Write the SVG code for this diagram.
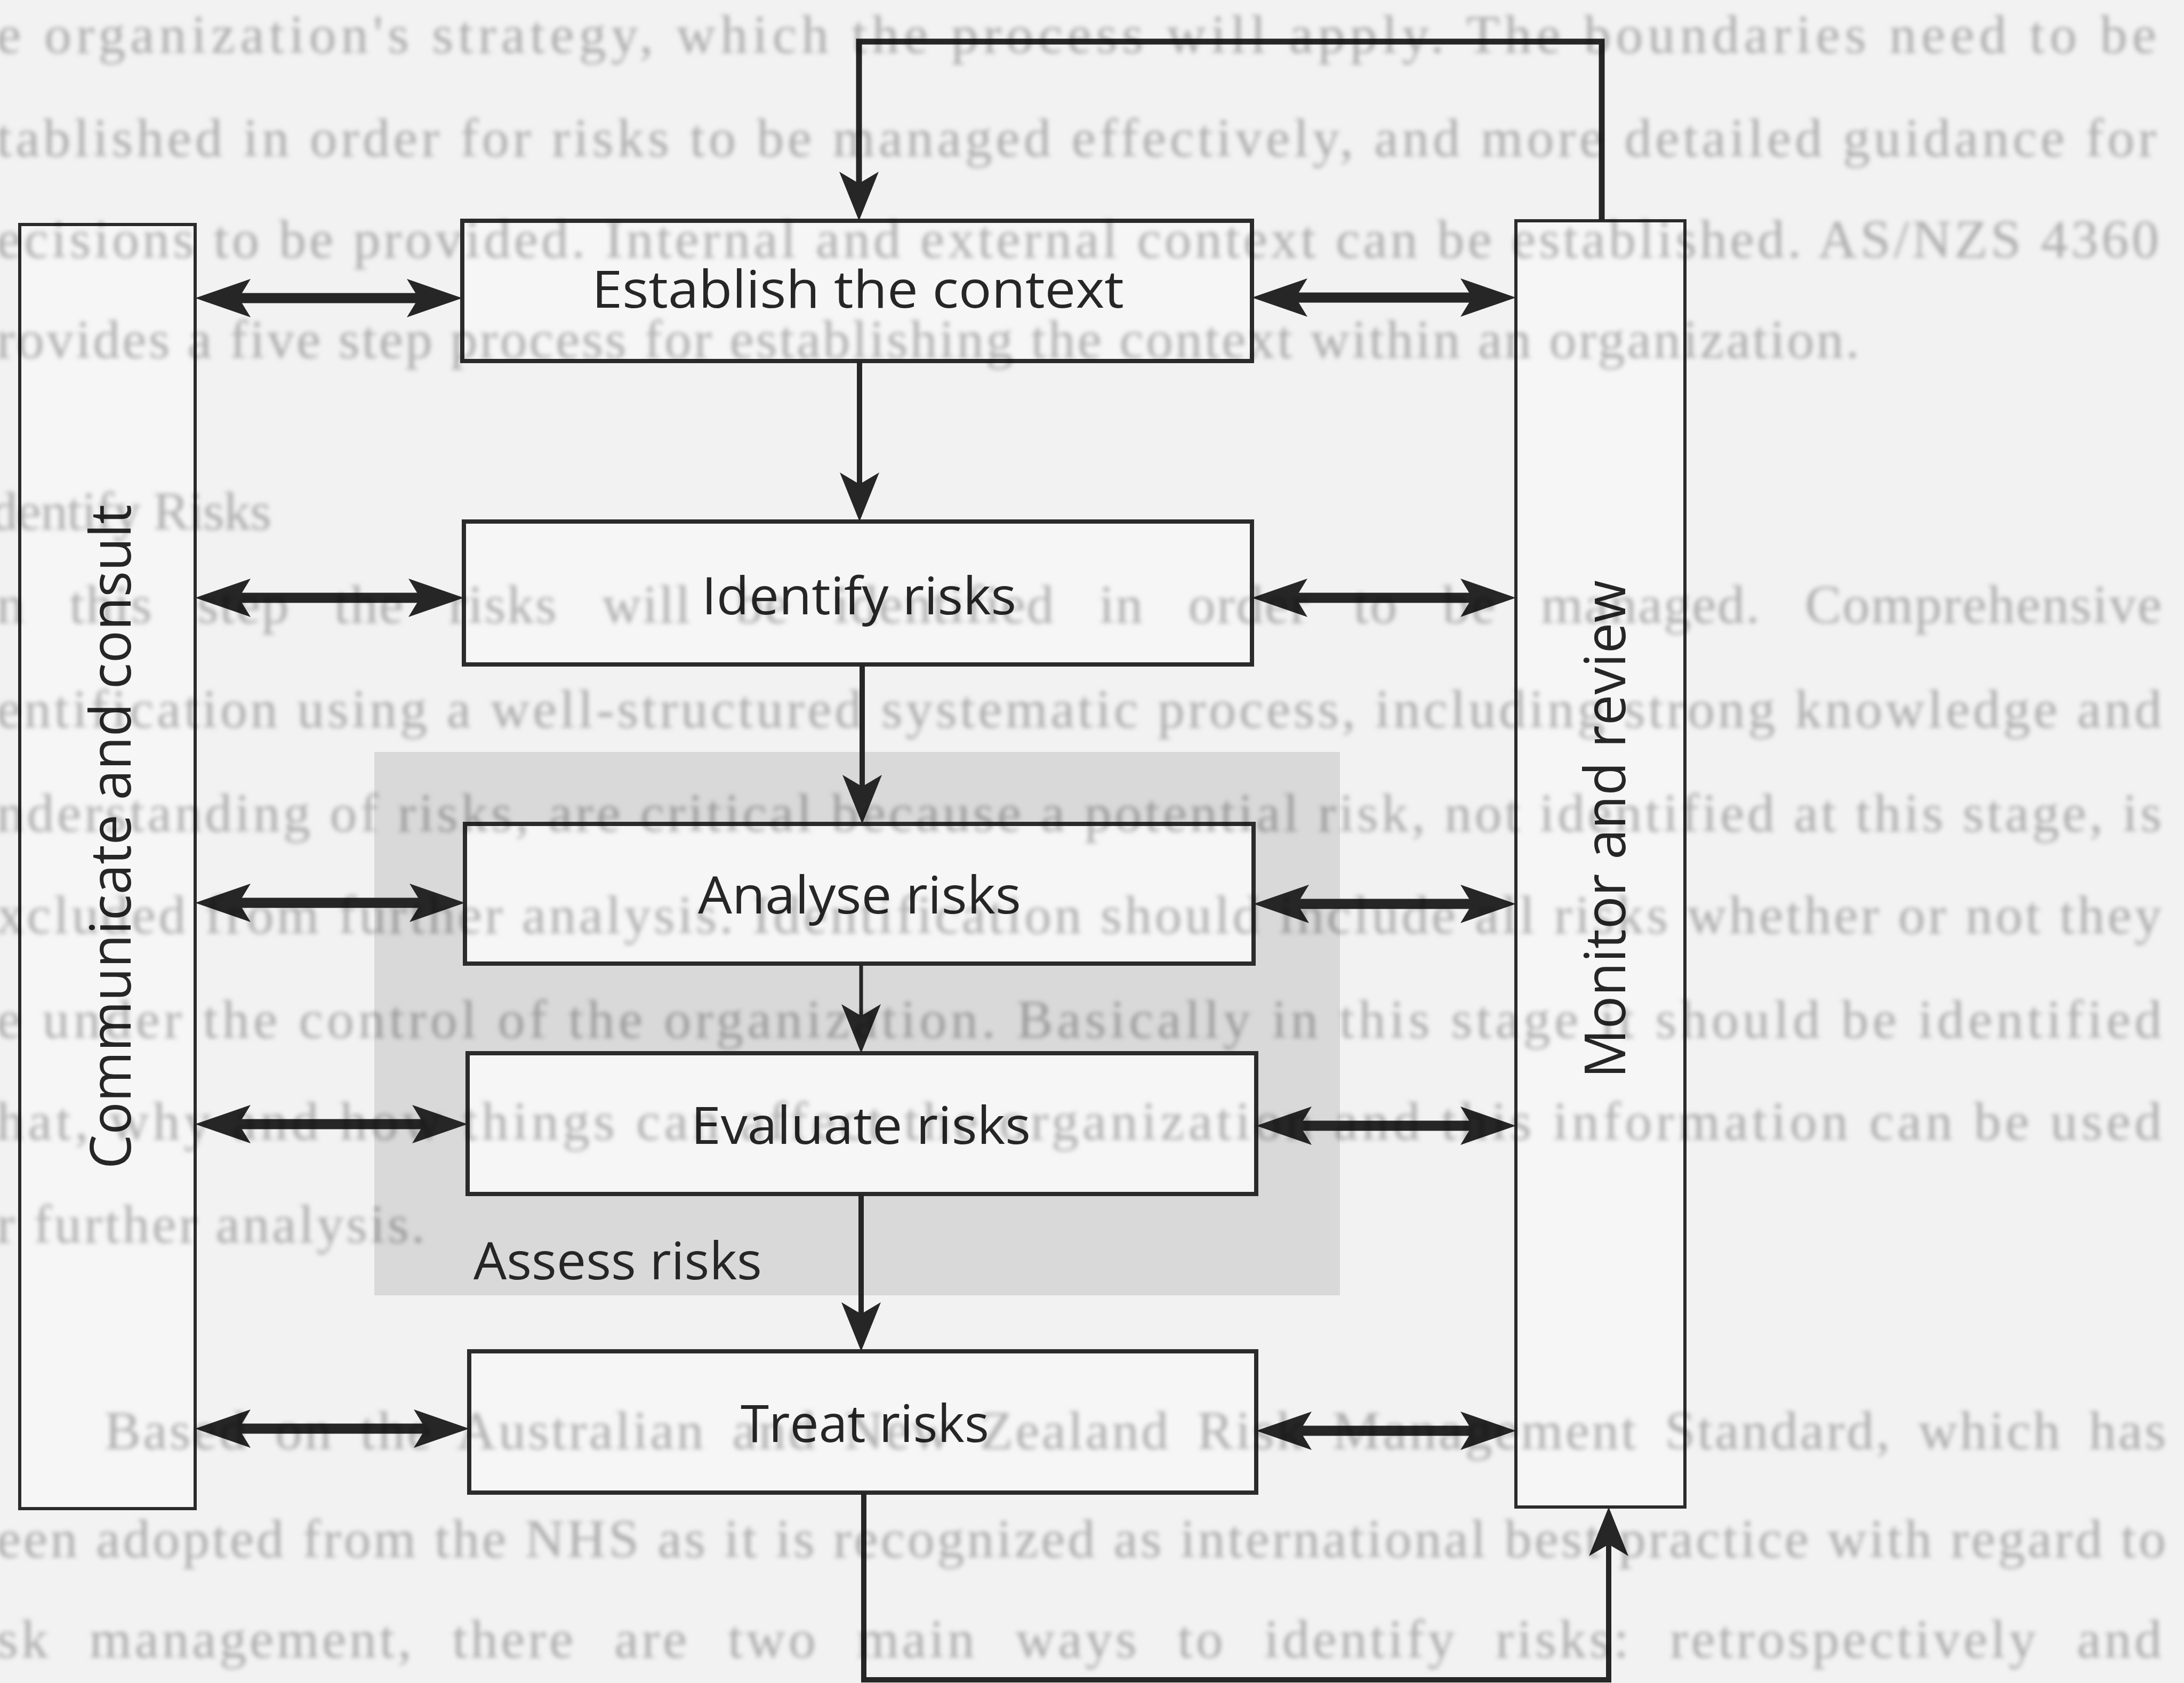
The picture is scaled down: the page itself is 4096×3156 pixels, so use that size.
<svg xmlns="http://www.w3.org/2000/svg" width="4096" height="3156" viewBox="0 0 4096 3156">
  <defs>
    <style>
      .bg{fill:#f2f2f2}
      .shade{fill:#d9d9d9}
      .box{fill:#f6f6f6;stroke:#2b2b2b;stroke-width:8}
      .side{fill:#f6f6f6;stroke:#2b2b2b;stroke-width:6}
      .lbl{font-family:"Open Sans","Noto Sans","Liberation Sans",sans-serif;font-size:97px;fill:#262626}
      .vlbl{font-family:"Open Sans","Noto Sans","Liberation Sans",sans-serif;font-size:106px;fill:#262626}
      .flow{fill:none;stroke:#262626;stroke-width:10}
      .loop{stroke-width:11}
      .thin{stroke-width:7}
      .dbl{fill:none;stroke:#262626;stroke-width:19}
      .page{font-family:"Liberation Serif","Times New Roman",serif;font-size:102px;fill:#b6b6b6}
    </style>
    <marker id="head" markerUnits="userSpaceOnUse" viewBox="0 -40 100 80" markerWidth="100" markerHeight="80" refX="24" refY="0" orient="auto-start-reverse">
      <path d="M0,-37 L92,0 L0,37 L22,0 Z" fill="#262626"/>
    </marker>
    <marker id="bihead" markerUnits="userSpaceOnUse" viewBox="0 -40 110 80" markerWidth="110" markerHeight="80" refX="24" refY="0" orient="auto-start-reverse">
      <path d="M0,-36 L104,0 L0,36 L22,0 Z" fill="#262626"/>
    </marker>
    <filter id="bleed" x="-5%" y="-50%" width="110%" height="200%">
      <feGaussianBlur stdDeviation="4.5"/>
    </filter>
  </defs>

  <!-- page -->
  <rect class="bg" x="0" y="0" width="4096" height="3156"/>
  <!-- shaded band grouping the assessment steps -->
  <rect id="assess-band" class="shade" x="702" y="1410" width="1811" height="1019"/>

  <!-- side bands -->
  <g id="communicate">
    <rect class="side" x="37" y="421" width="329" height="2408"/>
    <text class="vlbl" transform="translate(245,2192) rotate(-90)" textLength="1246" lengthAdjust="spacingAndGlyphs">Communicate and consult</text>
  </g>
  <g id="monitor">
    <rect class="side" x="2843" y="414" width="317" height="2412"/>
    <text class="vlbl" transform="translate(3048,2022) rotate(-90)" textLength="934" lengthAdjust="spacingAndGlyphs">Monitor and review</text>
  </g>

  <!-- process steps -->
  <g id="establish">
    <rect class="box" x="867" y="414" width="1481" height="263"/>
    <text class="lbl" x="1110" y="577" textLength="998" lengthAdjust="spacingAndGlyphs">Establish the context</text>
  </g>
  <g id="identify">
    <rect class="box" x="870" y="978" width="1478" height="268"/>
    <text class="lbl" x="1316" y="1152" textLength="590" lengthAdjust="spacingAndGlyphs">Identify risks</text>
  </g>
  <g id="analyse">
    <rect class="box" x="872" y="1545" width="1479" height="262"/>
    <text class="lbl" x="1309" y="1713" textLength="606" lengthAdjust="spacingAndGlyphs">Analyse risks</text>
  </g>
  <g id="evaluate">
    <rect class="box" x="877" y="1975" width="1479" height="264"/>
    <text class="lbl" x="1296" y="2145" textLength="637" lengthAdjust="spacingAndGlyphs">Evaluate risks</text>
  </g>
  <g id="assess">
    <text class="lbl" x="888" y="2399" textLength="541" lengthAdjust="spacingAndGlyphs">Assess risks</text>
  </g>
  <g id="treat">
    <rect class="box" x="880" y="2534" width="1476" height="265"/>
    <text class="lbl" x="1389" y="2704" textLength="466" lengthAdjust="spacingAndGlyphs">Treat risks</text>
  </g>

  <!-- connectors -->
  <g id="connectors">
    <!-- feedback loop from monitoring back to context -->
    <path class="flow loop" d="M3004,414 V78 H1611 V346" marker-end="url(#head)"/>
    <!-- main flow -->
    <line class="flow" x1="1612" y1="677" x2="1612" y2="910" marker-end="url(#head)"/>
    <line class="flow" x1="1617" y1="1246" x2="1617" y2="1477" marker-end="url(#head)"/>
    <line class="flow thin" x1="1615" y1="1807" x2="1615" y2="1907" marker-end="url(#head)"/>
    <line class="flow" x1="1615" y1="2239" x2="1615" y2="2466" marker-end="url(#head)"/>
    <!-- treatment feeds monitoring -->
    <path class="flow" d="M1620,2799 V3150 H3017 V2894" marker-end="url(#head)"/>

    <!-- communicate and consult links -->
    <line class="dbl" x1="446" y1="559" x2="787" y2="559" marker-start="url(#bihead)" marker-end="url(#bihead)"/>
    <line class="dbl" x1="446" y1="1121" x2="790" y2="1121" marker-start="url(#bihead)" marker-end="url(#bihead)"/>
    <line class="dbl" x1="446" y1="1693" x2="792" y2="1693" marker-start="url(#bihead)" marker-end="url(#bihead)"/>
    <line class="dbl" x1="446" y1="2108" x2="797" y2="2108" marker-start="url(#bihead)" marker-end="url(#bihead)"/>
    <line class="dbl" x1="446" y1="2679" x2="800" y2="2679" marker-start="url(#bihead)" marker-end="url(#bihead)"/>

    <!-- monitor and review links -->
    <line class="dbl" x1="2428" y1="558" x2="2763" y2="558" marker-start="url(#bihead)" marker-end="url(#bihead)"/>
    <line class="dbl" x1="2428" y1="1121" x2="2763" y2="1121" marker-start="url(#bihead)" marker-end="url(#bihead)"/>
    <line class="dbl" x1="2431" y1="1695" x2="2763" y2="1695" marker-start="url(#bihead)" marker-end="url(#bihead)"/>
    <line class="dbl" x1="2436" y1="2111" x2="2763" y2="2111" marker-start="url(#bihead)" marker-end="url(#bihead)"/>
    <line class="dbl" x1="2436" y1="2683" x2="2763" y2="2683" marker-start="url(#bihead)" marker-end="url(#bihead)"/>
  </g>

  <!-- body text showing through the page -->
  <g id="page-text" class="page" filter="url(#bleed)" style="mix-blend-mode:multiply">
    <text x="-6" y="99" textLength="4050" lengthAdjust="spacing">e organization's strategy, which the process will apply. The boundaries need to be</text>
    <text x="-6" y="293" textLength="4050" lengthAdjust="spacing">tablished in order for risks to be managed effectively, and more detailed guidance for</text>
    <text x="-6" y="483" textLength="4055" lengthAdjust="spacing">ecisions to be provided. Internal and external context can be established. AS/NZS 4360</text>
    <text x="-6" y="671" textLength="3493" lengthAdjust="spacing">rovides a five step process for establishing the context within an organization.</text>
    <text x="-18" y="993" textLength="527" lengthAdjust="spacing">dentify Risks</text>
    <text x="-6" y="1168" word-spacing="55" textLength="4060" lengthAdjust="spacing">n this step the risks will be identified in order to be managed. Comprehensive</text>
    <text x="-6" y="1364" textLength="4060" lengthAdjust="spacing">entification using a well-structured systematic process, including strong knowledge and</text>
    <text x="-6" y="1559" textLength="4060" lengthAdjust="spacing">nderstanding of risks, are critical because a potential risk, not identified at this stage, is</text>
    <text x="-6" y="1750" textLength="4060" lengthAdjust="spacing">xcluded from further analysis. Identification should include all risks whether or not they</text>
    <text x="-6" y="1946" textLength="4060" lengthAdjust="spacing">e under the control of the organization. Basically in this stage it should be identified</text>
    <text x="-6" y="2137" textLength="4060" lengthAdjust="spacing">hat, why and how things can affect the organization and this information can be used</text>
    <text x="-6" y="2330" textLength="803" lengthAdjust="spacing">r further analysis.</text>
    <text x="196" y="2717" word-spacing="20" textLength="3866" lengthAdjust="spacing">Based on the Australian and New Zealand Risk Management Standard, which has</text>
    <text x="-6" y="2920" textLength="4068" lengthAdjust="spacing">een adopted from the NHS as it is recognized as international best practice with regard to</text>
    <text x="-6" y="3108" word-spacing="40" textLength="4060" lengthAdjust="spacing">sk management, there are two main ways to identify risks: retrospectively and</text>
  </g>
</svg>
